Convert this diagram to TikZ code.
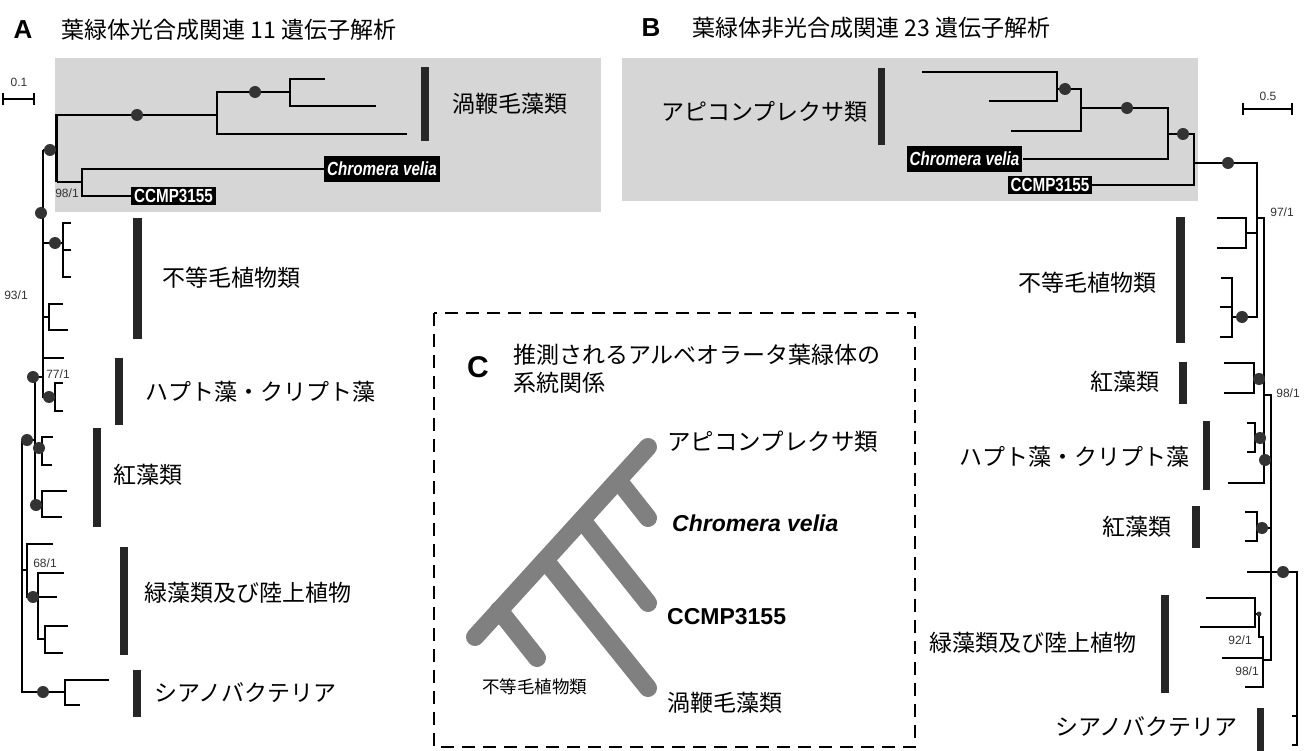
\documentclass[tikz,border=0pt]{standalone}
\usepackage{fontspec}
\setmainfont{Liberation Sans}
\newfontfamily\jp{Noto Sans CJK JP}
\newcommand\myfs[1]{\fontsize{#1}{#1}\selectfont}
\begin{document}
\begin{tikzpicture}[x=1pt,y=-1pt,
  br/.style={line width=2.2pt, line join=miter},
  dot/.style={circle, fill=black!80, inner sep=0pt, minimum size=12pt},
  sdot/.style={circle, fill=black!80, inner sep=0pt, minimum size=5pt},
  bar/.style={fill=black!85},
  gbox/.style={fill=black!16},
  jpl/.style={font=\jp\myfs{23}, inner sep=0pt},
  sup/.style={font=\myfs{12}, inner sep=0pt, text=black!80},
  blk/.style={fill=black, text=white, font=\bfseries\itshape\myfs{19}, inner xsep=3pt, inner ysep=6pt},
  blkn/.style={fill=black, text=white, font=\bfseries\myfs{19}, inner xsep=3pt, inner ysep=2.5pt},
  ttl/.style={font=\jp\myfs{23}, anchor=west, inner sep=0pt},
  lett/.style={font=\bfseries\myfs{26}, inner sep=0pt},
  ctree/.style={line width=18pt, line cap=round, draw=black!50},
  dashbox/.style={line width=2.5pt, dash pattern=on 13pt off 8pt}
]
\useasboundingbox (0,0) rectangle (1309,751);
\fill[white] (0,0) rectangle (1309,751);

% ---------- titles ----------
\node[lett] (tA) at (23,30) {A};
\node[ttl] (tAt) at (61,30) {葉緑体光合成関連 11 遺伝子解析};
\node[lett] (tB) at (651,28) {B};
\node[ttl] (tBt) at (692,28) {葉緑体非光合成関連 23 遺伝子解析};

% ---------- gray boxes ----------
\fill[gbox] (55,58) rectangle (601,212);
\fill[gbox] (622,58) rectangle (1198,201);

% ---------- scale bars ----------
\draw[line width=2pt] (3,99) -- (34,99) (3,93) -- (3,105) (34,93) -- (34,105);
\node[sup] (sA) at (19,82) {0.1};
\draw[line width=2pt] (1243,109) -- (1292,109) (1243,103) -- (1243,115) (1292,103) -- (1292,115);
\node[sup] (sB) at (1268,96) {0.5};

% ================= TREE A =================
\node[blk] (cvA) at (382,169) {\scalebox{0.8}[1]{Chromera velia}};
\node[blkn] (ccA) at (173.5,196) {\scalebox{0.8}[1]{CCMP3155}};
\draw[br] (43,150) -- (56.5,150);
\draw[br] (56.5,182) -- (56.5,115) -- (217,115);
\draw[br] (407,134) -- (217,134) -- (217,92) -- (290,92);
\draw[br] (325,79) -- (290,79) -- (290,106) -- (376,106);
\draw[br] (56.5,182) -- (82,182);
\draw[br] (cvA.west) -- (82,169) -- (82,196) -- (ccA.west);
% lower part
\draw[br] (43,150) -- (43,377) -- (35,377) -- (35,505);
\draw[br] (43,243) -- (63,243);
\draw[br] (71,223) -- (63,223) -- (63,277) -- (71,277);
\draw[br] (63,250) -- (71,250);
\draw[br] (43,317) -- (49,317);
\draw[br] (63,304) -- (49,304) -- (49,330) -- (68,330);
\draw[br] (64,358) -- (43,358) -- (43,397) -- (55,397);
\draw[br] (63,383) -- (55,383) -- (55,411) -- (63,411);
\draw[br] (35,440) -- (22,440) -- (22,692) -- (65,692);
\draw[br] (35,448) -- (42,448);
\draw[br] (53,437) -- (42,437) -- (42,465) -- (52,465);
\draw[br] (35,505) -- (42,505);
\draw[br] (67,491) -- (42,491) -- (42,517) -- (62,517);
\draw[br] (22,570) -- (27,570);
\draw[br] (53,544) -- (27,544) -- (27,597) -- (38,597);
\draw[br] (64,573) -- (38,573) -- (38,639) -- (45,639);
\draw[br] (38,597) -- (57,597);
\draw[br] (68,626) -- (45,626) -- (45,653) -- (63,653);
\draw[br] (109,680) -- (65,680) -- (65,705) -- (80,705);
% dots A
\foreach \p [count=\i] in {(50,150),(137,115),(255,92),(41,213),(55,243),(33,377),(49,397),(27,440),(39,448),(36,505),(33,597),(43,692)}
  \node[dot] (dA\i) at \p {};
% support A
\node[sup] (s98A) at (67,193) {98/1};
\node[sup] (s93A) at (16,295) {93/1};
\node[sup] (s77A) at (58,374) {77/1};
\node[sup] (s68A) at (45,563) {68/1};
% bars + labels A
\fill[bar] (421,67) rectangle (429,141);
\node[jpl, anchor=west] (lDinoA) at (452,104) {渦鞭毛藻類};
\fill[bar] (133,218) rectangle (142,339);
\node[jpl, anchor=west] (lStrA) at (162,278) {不等毛植物類};
\fill[bar] (115,358) rectangle (123,425);
\node[jpl, anchor=west] (lHapA) at (145,392) {ハプト藻・クリプト藻};
\fill[bar] (93,428) rectangle (101,527);
\node[jpl, anchor=west] (lRedA) at (113,475) {紅藻類};
\fill[bar] (120,547) rectangle (128,655);
\node[jpl, anchor=west] (lGrnA) at (144,593) {緑藻類及び陸上植物};
\fill[bar] (133,670) rectangle (141,717);
\node[jpl, anchor=west] (lCyaA) at (154,693) {シアノバクテリア};

% ================= TREE B =================
\node[blk] (cvB) at (964.5,159) {\scalebox{0.8}[1]{Chromera velia}};
\node[blkn] (ccB) at (1050,185) {\scalebox{0.8}[1]{CCMP3155}};
\draw[br] (922,72) -- (1057,72) -- (1057,101) -- (989,101);
\draw[br] (1057,89) -- (1081,89) -- (1081,131) -- (1011,131);
\draw[br] (1081,108) -- (1168,108) -- (1168,159) -- (cvB.east);
\draw[br] (1168,134) -- (1194,134) -- (1194,185) -- (ccB.east);
\draw[br] (1194,163) -- (1257,163) -- (1257,317) -- (1232,317);
\draw[br] (1217,218) -- (1246,218) -- (1246,248) -- (1217,248);
\draw[br] (1246,233) -- (1257,233);
\draw[br] (1257,218) -- (1264,218) -- (1264,483) -- (1228,483);
\draw[br] (1221,278) -- (1232,278) -- (1232,337) -- (1220,337);
\draw[br] (1232,307) -- (1220,307);
\draw[br] (1224,363) -- (1254,363) -- (1254,393) -- (1224,393);
\draw[br] (1254,379) -- (1264,379);
\draw[br] (1264,395) -- (1271,395) -- (1271,660) -- (1263,660);
\draw[br] (1247,423) -- (1255,423) -- (1255,452) -- (1247,452);
\draw[br] (1255,438) -- (1264,438);
\draw[br] (1245,512) -- (1257,512) -- (1257,541) -- (1245,541);
\draw[br] (1257,528) -- (1271,528);
\draw[br] (1247,572) -- (1297,572) -- (1297,745) -- (1292,745);
\draw[br] (1292,716) -- (1297,716);
\draw[br] (1206,598) -- (1255,598) -- (1255,627) -- (1200,627);
\draw[br] (1255,614) -- (1259,614) -- (1259,637) -- (1263,637) -- (1263,687) -- (1245,687);
\draw[br] (1222,658) -- (1263,658);
% dots B
\foreach \p [count=\i] in {(1065,89),(1127,108),(1183,134),(1228,163),(1242,317),(1259,379),(1260,438),(1265,460),(1262,528),(1283,572)}
  \node[dot] (dB\i) at \p {};
\node[sdot] (dBs) at (1259,614) {};
% support B
\node[sup] (s97B) at (1282,212) {97/1};
\node[sup] (s98B) at (1288,393) {98/1};
\node[sup] (s92B) at (1240,640) {92/1};
\node[sup] (s98Bb) at (1247,671) {98/1};
% bars + labels B
\fill[bar] (878,68) rectangle (885,145);
\node[jpl, anchor=west] (lApiB) at (661,112) {アピコンプレクサ類};
\fill[bar] (1176,217) rectangle (1185,343);
\node[jpl, anchor=east] (lStrB) at (1157,283) {不等毛植物類};
\fill[bar] (1179,362) rectangle (1187,404);
\node[jpl, anchor=east] (lRedB) at (1160,382) {紅藻類};
\fill[bar] (1203,421) rectangle (1210,490);
\node[jpl, anchor=east] (lHapB) at (1190,457) {ハプト藻・クリプト藻};
\fill[bar] (1192,506) rectangle (1200,548);
\node[jpl, anchor=east] (lRedB2) at (1172,527) {紅藻類};
\fill[bar] (1161,595) rectangle (1169,693);
\node[jpl, anchor=east] (lGrnB) at (1137,643) {緑藻類及び陸上植物};
\fill[bar] (1257,708) rectangle (1264,751);
\node[jpl, anchor=east] (lCyaB) at (1238,727) {シアノバクテリア};

% ================= PANEL C =================
\draw[dashbox] (434,313) rectangle (915,747);
\node[font=\bfseries\myfs{30}, inner sep=0pt] (tC) at (478,367) {C};
\node[ttl] (tCt1) at (513,355) {推測されるアルベオラータ葉緑体の};
\node[ttl] (tCt2) at (513,383) {系統関係};
\coordinate (cR) at (475,637);
\coordinate (cApi) at (648,447);
\coordinate (jCv) at (618,480);
\coordinate (eCv) at (648,518);
\coordinate (jCc) at (582,520);
\coordinate (eCc) at (648,603);
\coordinate (jDi) at (545,560);
\coordinate (eDi) at (648,688);
\coordinate (jSt) at (499,610);
\coordinate (eSt) at (537,658);
\draw[ctree] (cR) -- (cApi);
\draw[ctree] (jCv) -- (eCv);
\draw[ctree] (jCc) -- (eCc);
\draw[ctree] (jDi) -- (eDi);
\draw[ctree] (jSt) -- (eSt);
\node[jpl, anchor=west, font=\jp\myfs{23.5}] (cLApi) at (667,442) {アピコンプレクサ類};
\node[anchor=west, inner sep=0pt, font=\bfseries\itshape\myfs{23}] (cLCv) at (672,523) {Chromera velia};
\node[anchor=west, inner sep=0pt, font=\bfseries\myfs{23}] (cLCc) at (667,617) {CCMP3155};
\node[jpl, anchor=west] (cLDi) at (667,703) {渦鞭毛藻類};
\node[jpl, anchor=west, font=\jp\myfs{17.5}] (cLSt) at (482,687) {不等毛植物類};
\end{tikzpicture}
\end{document}
